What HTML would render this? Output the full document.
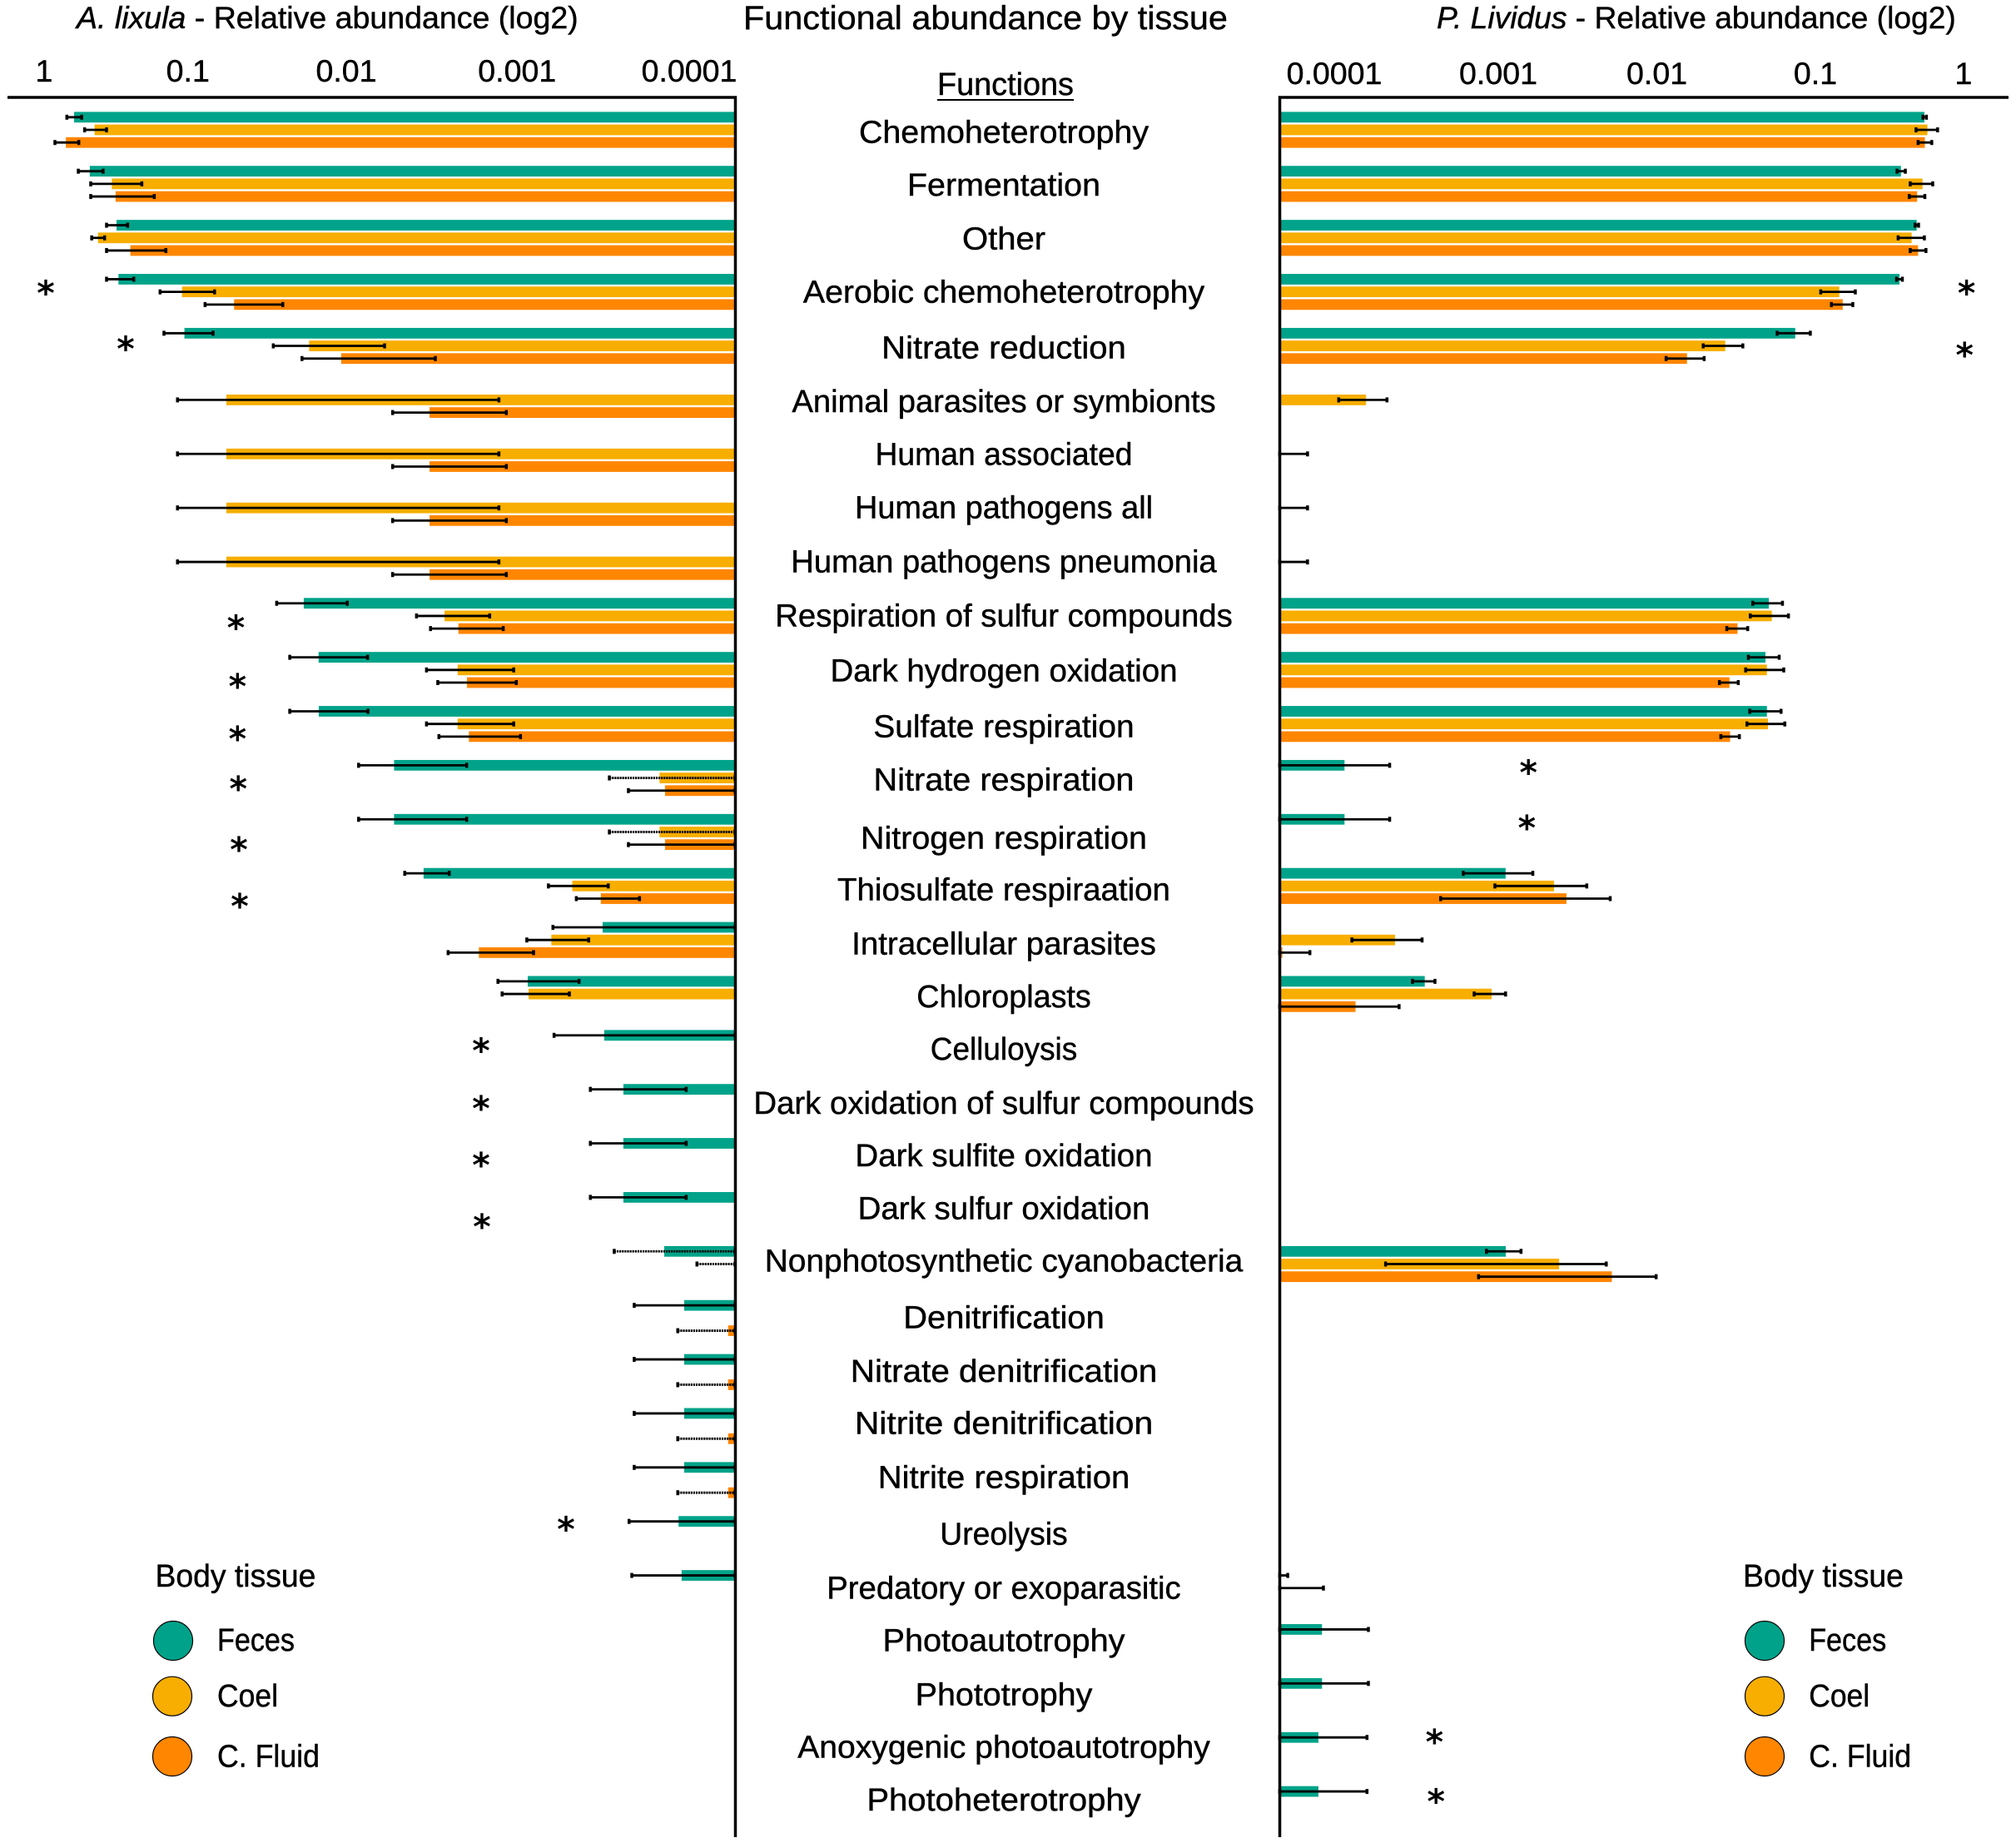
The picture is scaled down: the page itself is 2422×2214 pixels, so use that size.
<!DOCTYPE html>
<html lang="en">
<head>
<meta charset="utf-8">
<title>Functional abundance by tissue</title>
<style>
  html, body { margin: 0; padding: 0; background: #fff; }
  svg { display: block; }
  text { font-family: "Liberation Sans", sans-serif; fill: #000; stroke: #000; stroke-width: 0.45px; }
  .star { font-family: "DejaVu Sans", sans-serif; font-weight: bold; font-size: 41px; text-anchor: middle; stroke-width: 0; }
</style>
</head>
<body>
<svg id="chart" xmlns="http://www.w3.org/2000/svg" width="2422" height="2214" viewBox="0 0 2422 2214">
  <rect x="0" y="0" width="2422" height="2214" fill="#fff"/>

  <text class="fit" data-fit="603" x="92" y="34" font-size="37"><tspan font-style="italic">A. lixula</tspan> - Relative abundance (log2)</text>
  <text class="fit" data-fit="582" x="893" y="35" font-size="40">Functional abundance by tissue</text>
  <text class="fit" data-fit="624" x="1726" y="34" font-size="37"><tspan font-style="italic">P. Lividus</tspan> - Relative abundance (log2)</text>
  <text class="fit" data-fit="164" x="1126" y="114" font-size="38">Functions</text>
  <line x1="1126" x2="1290" y1="120" y2="120" stroke="#000" stroke-width="2"/>

  <g id="left-bars"></g>
  <g id="right-bars"></g>
  <g id="left-errors"></g>
  <g id="right-errors"></g>
  <g id="ticks"></g>
  <g id="cats"></g>

  <path d="M9 117H883.5V2207" fill="none" stroke="#000" stroke-width="3.5"/>
  <path d="M2413 117H1537.5V2207" fill="none" stroke="#000" stroke-width="3.5"/>

  <g transform="translate(0 1.5)">
    <text class="star" x="55" y="365">*</text>
    <text class="star" x="151" y="432">*</text>
    <text class="star" x="283.5" y="767">*</text>
    <text class="star" x="285.3" y="837.6">*</text>
    <text class="star" x="285.3" y="900.5">*</text>
    <text class="star" x="286.2" y="960.5">*</text>
    <text class="star" x="287" y="1033.7">*</text>
    <text class="star" x="288" y="1101.6">*</text>
    <text class="star" x="578" y="1275">*</text>
    <text class="star" x="578" y="1344.7">*</text>
    <text class="star" x="578" y="1412.7">*</text>
    <text class="star" x="579" y="1486.7">*</text>
    <text class="star" x="680" y="1850">*</text>
  </g>
  <g transform="translate(0 1.5)">
    <text class="star" x="2362.6" y="365">*</text>
    <text class="star" x="2360.2" y="439.7">*</text>
    <text class="star" x="1836.2" y="940.9">*</text>
    <text class="star" x="1834.4" y="1007.6">*</text>
    <text class="star" x="1723.4" y="2105.3">*</text>
    <text class="star" x="1725.2" y="2177">*</text>
  </g>

  <g>
    <text class="fit" data-fit="193" x="186.5" y="1906" font-size="38">Body tissue</text>
    <circle cx="208" cy="1971" r="23.5" fill="#00a389" stroke="#000" stroke-width="1.2"/>
    <text class="fit" data-fit="93" x="261" y="1983" font-size="38">Feces</text>
    <circle cx="207" cy="2037.7" r="23.5" fill="#f7ae00" stroke="#000" stroke-width="1.2"/>
    <text class="fit" data-fit="73" x="261" y="2050" font-size="38">Coel</text>
    <circle cx="207" cy="2110" r="23.5" fill="#ff8600" stroke="#000" stroke-width="1.2"/>
    <text class="fit" data-fit="123" x="261" y="2122.7" font-size="38">C. Fluid</text>
  </g>
  <g>
    <text class="fit" data-fit="193" x="2094" y="1906" font-size="38">Body tissue</text>
    <circle cx="2120" cy="1971" r="23.5" fill="#00a389" stroke="#000" stroke-width="1.2"/>
    <text class="fit" data-fit="93" x="2173.2" y="1983" font-size="38">Feces</text>
    <circle cx="2120" cy="2037.7" r="23.5" fill="#f7ae00" stroke="#000" stroke-width="1.2"/>
    <text class="fit" data-fit="73" x="2173.2" y="2050" font-size="38">Coel</text>
    <circle cx="2120" cy="2110" r="23.5" fill="#ff8600" stroke="#000" stroke-width="1.2"/>
    <text class="fit" data-fit="123" x="2173.2" y="2122.7" font-size="38">C. Fluid</text>
  </g>
</svg>

<script>
// All series values are log10(relative abundance). n = no mark.
const n = null;

const categories = ["Chemoheterotrophy","Fermentation","Other","Aerobic chemoheterotrophy","Nitrate reduction","Animal parasites or symbionts","Human associated","Human pathogens all","Human pathogens pneumonia","Respiration of sulfur compounds","Dark hydrogen oxidation","Sulfate respiration","Nitrate respiration","Nitrogen respiration","Thiosulfate respiraation","Intracellular parasites","Chloroplasts","Celluloysis","Dark oxidation of sulfur compounds","Dark sulfite oxidation","Dark sulfur oxidation","Nonphotosynthetic cyanobacteria","Denitrification","Nitrate denitrification","Nitrite denitrification","Nitrite respiration","Ureolysis","Predatory or exoparasitic","Photoautotrophy","Phototrophy","Anoxygenic photoautotrophy","Photoheterotrophy"];
const tickLabelsLeft = ["1","0.1","0.01","0.001","0.0001"];
const tickLabelsRight = ["0.0001","0.001","0.01","0.1","1"];

const lixulaFeces     = [-.186,-.283,-.449,-.461,-.870,n,n,n,n,-1.610,-1.702,-1.703,-2.170,-2.170,-2.353,-3.463,-2.999,-3.473,-3.592,-3.592,-3.592,-3.845,-3.969,-3.969,-3.969,-3.969,-3.934,-3.953,n,n,n,n];
const lixulaFecesHigh = [-.141,-.212,-.387,-.387,-.743,n,n,n,n,-1.442,-1.523,-1.523,-1.950,-1.950,-2.236,-3.155,-2.814,-3.162,-3.387,-3.387,-3.387,-3.535,-3.659,-3.659,-3.659,-3.659,-3.627,-3.644,n,n,n,n];
const lixulaFecesLow  = [-.233,-.366,-.518,-.556,-1.048,n,n,n,n,-1.880,-2.006,-2.008,-2.620,-2.620,-2.512,-4.284,-3.317,-4.284,-3.981,-3.981,-3.981,-4.284,-4.284,-4.284,-4.284,-4.284,-4.284,-4.284,n,n,n,n];

const lixulaCoel      = [-.313,-.420,-.334,-.855,-1.643,-1.130,-1.130,-1.130,-1.130,-2.483,-2.564,-2.564,-3.816,-3.816,-3.275,-3.145,-3.004,n,n,n,n,-4.284,n,n,n,n,n,n,n,n,n,n];
const lixulaCoelHigh  = [-.251,-.289,-.295,-.719,-1.421,-.827,-.827,-.827,-.827,-2.309,-2.371,-2.371,-3.505,-3.505,-3.127,-2.993,-2.840,n,n,n,n,-4.048,n,n,n,n,n,n,n,n,n,n];
const lixulaCoelLow   = [-.387,-.606,-.375,-1.057,-2.111,-2.820,-2.820,-2.820,-2.820,-2.763,-2.912,-2.912,-4.284,-4.284,-3.498,-3.377,-3.257,n,n,n,n,-4.284,n,n,n,n,n,n,n,n,n,n];

const lixulaFluid     = [-.135,-.443,-.535,-1.178,-1.842,-2.390,-2.390,-2.390,-2.390,-2.569,-2.622,-2.634,-3.850,-3.850,-3.452,-2.696,n,n,n,n,n,n,-4.241,-4.241,-4.241,-4.241,n,n,n,n,n,n];
const lixulaFluidHigh = [-.067,-.289,-.387,-.998,-1.599,-2.161,-2.161,-2.161,-2.161,-2.396,-2.441,-2.448,-3.623,-3.623,-3.300,-2.505,n,n,n,n,n,n,-3.929,-3.929,-3.929,-3.929,n,n,n,n,n,n];
const lixulaFluidLow  = [-.215,-.683,-.755,-1.480,-2.426,-2.866,-2.866,-2.866,-2.866,-2.847,-2.928,-2.954,-4.284,-4.284,-3.692,-3.035,n,n,n,n,n,n,-4.284,-4.284,-4.284,-4.284,n,n,n,n,n,n];

const lividusFeces     = [-.249,-.398,-.298,-.407,-1.070,n,n,n,n,-1.238,-1.259,-1.250,-3.935,-3.935,-2.911,n,-3.425,n,n,n,n,-2.910,n,n,n,n,n,-4.347,-4.078,-4.078,-4.101,-4.101];
const lividusFecesHigh = [-.236,-.370,-.286,-.389,-.974,n,n,n,n,-1.151,-1.172,-1.160,-3.648,-3.648,-2.738,n,-3.360,n,n,n,n,-2.813,n,n,n,n,n,-4.296,-3.783,-3.783,-3.792,-3.792];
const lividusFecesLow  = [-.258,-.423,-.308,-.426,-1.185,n,n,n,n,-1.340,-1.368,-1.359,-4.347,-4.347,-3.180,n,-3.503,n,n,n,n,-3.033,n,n,n,n,n,-4.347,-4.347,-4.347,-4.347,-4.347];

const lividusCoel      = [-.230,-.261,-.330,-.790,-1.515,-3.798,-4.347,-4.347,-4.347,-1.219,-1.250,-1.243,n,n,-2.603,-3.614,-3.000,n,n,n,n,-2.571,n,n,n,n,n,-4.347,n,n,n,n];
const lividusCoelHigh  = [-.165,-.196,-.249,-.688,-1.403,-3.665,-4.170,-4.170,-4.170,-1.113,-1.143,-1.136,n,n,-2.395,-3.442,-2.911,n,n,n,n,-2.271,n,n,n,n,n,-4.069,n,n,n,n];
const lividusCoelLow   = [-.302,-.339,-.416,-.908,-1.655,-3.972,-4.347,-4.347,-4.347,-1.356,-1.385,-1.377,n,n,-2.979,-3.888,-3.111,n,n,n,n,-3.674,n,n,n,n,n,-4.347,n,n,n,n];

const lividusFluid     = [-.246,-.295,-.289,-.768,-1.758,n,n,n,n,-1.437,-1.488,-1.484,n,n,-2.524,-4.330,-3.865,n,n,n,n,-2.236,n,n,n,n,n,n,n,n,n,n];
const lividusFluidHigh = [-.202,-.246,-.239,-.704,-1.649,n,n,n,n,-1.372,-1.432,-1.425,n,n,-2.246,-4.155,-3.588,n,n,n,n,-1.954,n,n,n,n,n,n,n,n,n,n];
const lividusFluidLow  = [-.289,-.345,-.339,-.840,-1.891,n,n,n,n,-1.505,-1.552,-1.543,n,n,-3.324,-4.347,-4.347,n,n,n,n,-3.083,n,n,n,n,n,n,n,n,n,n];

// ---------- layout & axis functions ----------
const SVGNS = "http://www.w3.org/2000/svg";
const LEFT_AXIS = 883.5, RIGHT_AXIS = 1537.5;
const xLeft  = v => 828 - 193.75 * (v + 4);    // v = log10 abundance
const xRight = v => 1603 + 189 * (v + 4);
const rowTop = i => 134.4 + 64.88 * i;
const BAR_H = 12.8, BAR_STEP = 15.2;
const COLORS = { feces: "#00a389", coel: "#f7ae00", fluid: "#ff8600" };
const LEFT_TICK_NUDGE = [0, -21, -24.5, -13, 0];
const RIGHT_TICK_NUDGE = [0, 8, 9.6, 11, 0];
const LABEL_NUDGE = { 1: -1, 2: -1.5, 3: -2, 6: -1.5, 7: -2, 8: -2, 9: -1.5, 11: 2, 12: 1.5, 13: 6.5, 14: 4, 15: 4, 16: 3, 17: 1.5, 18: 1.5, 20: -1.5, 21: -3, 24: -2.5, 25: -2, 26: 1.5, 27: 1.5, 30: -1.5, 31: -3 };
// Per-label width correction, standing in for the narrower original typeface
const LABEL_STRETCH = [1.0135,1.013,1.03,1.01,1.03,.982,.96,.975,.982,.986,.99,1,1.02,1.014,.99,.99,.97,.95,.987,.99,.99,1,1.026,1.04,1.05,1.03,.96,.985,1.02,1.015,1.006,1.03];
// Error bars that print as dotted lines in the original
const DOTTED_ERRORS = { "lixula-feces": [21], "lixula-coel": [12, 13, 21], "lixula-fluid": [22, 23, 24, 25] };

function el(tag, parent) {
  const e = document.createElementNS(SVGNS, tag);
  parent.appendChild(e);
  return e;
}

function drawSeries(values, high, low, tissue, offset, panel, xFn, axisX, barsGroup, errGroup) {
  const dotted = DOTTED_ERRORS[panel + "-" + tissue] || [];
  values.forEach((v, i) => {
    if (v === null) return;
    const x = xFn(v);
    const y = rowTop(i) + offset * BAR_STEP;
    const bar = el("rect", barsGroup);
    
    
    bar.setAttribute("x", Math.min(x, axisX));
    bar.setAttribute("width", Math.abs(axisX - x));
    bar.setAttribute("y", y);
    bar.setAttribute("height", BAR_H);
    bar.setAttribute("fill", COLORS[tissue]);

    const x1 = xFn(high[i]), x2 = xFn(low[i]), cy = y + BAR_H / 2;
    const err = el("path", errGroup);
    
    
    err.setAttribute("d", "M" + x1 + " " + cy + "H" + x2);
    err.setAttribute("stroke", "#000");
    err.setAttribute("stroke-width", "2.8");
    err.setAttribute("fill", "none");
    if (dotted.includes(i)) err.setAttribute("stroke-dasharray", "2.2 0.9");
    [x1, x2].forEach(cx => {
      const cap = el("rect", errGroup);
      
      
      cap.setAttribute("x", cx - 1.75);
      cap.setAttribute("y", cy - 3);
      cap.setAttribute("width", 3.5);
      cap.setAttribute("height", 6);
      cap.setAttribute("fill", "#000");
    });
  });
}

const gLB = document.getElementById("left-bars"), gRB = document.getElementById("right-bars");
const gLE = document.getElementById("left-errors"), gRE = document.getElementById("right-errors");

drawSeries(lixulaFeces, lixulaFecesHigh, lixulaFecesLow, "feces", 0, "lixula", xLeft, LEFT_AXIS, gLB, gLE);
drawSeries(lixulaCoel, lixulaCoelHigh, lixulaCoelLow, "coel", 1, "lixula", xLeft, LEFT_AXIS, gLB, gLE);
drawSeries(lixulaFluid, lixulaFluidHigh, lixulaFluidLow, "fluid", 2, "lixula", xLeft, LEFT_AXIS, gLB, gLE);
drawSeries(lividusFeces, lividusFecesHigh, lividusFecesLow, "feces", 0, "lividus", xRight, RIGHT_AXIS, gRB, gRE);
drawSeries(lividusCoel, lividusCoelHigh, lividusCoelLow, "coel", 1, "lividus", xRight, RIGHT_AXIS, gRB, gRE);
drawSeries(lividusFluid, lividusFluidHigh, lividusFluidLow, "fluid", 2, "lividus", xRight, RIGHT_AXIS, gRB, gRE);

// Stretch a text horizontally about an anchor
function stretch(t, sx, ax, ay) {
  t.setAttribute("transform", "translate(" + ax + " " + ay + ") scale(" + sx + " 1) translate(" + (-ax) + " " + (-ay) + ")");
}

// tick labels
const gTicks = document.getElementById("ticks");
tickLabelsLeft.forEach((label, i) => {
  const t = el("text", gTicks);
  
  
  const cx = xLeft(Math.log10(Number(label))) + LEFT_TICK_NUDGE[i];
  t.setAttribute("x", cx);
  t.setAttribute("y", 98);
  t.setAttribute("font-size", 37);
  t.setAttribute("text-anchor", "middle");
  t.textContent = label;
  stretch(t, 1.015, cx, 98);
});
tickLabelsRight.forEach((label, i) => {
  const t = el("text", gTicks);
  
  
  const cx = xRight(Math.log10(Number(label))) + RIGHT_TICK_NUDGE[i];
  t.setAttribute("x", cx);
  t.setAttribute("y", 101);
  t.setAttribute("font-size", 37);
  t.setAttribute("text-anchor", "middle");
  t.textContent = label;
  stretch(t, 1.015, cx, 101);
});

// category labels
const gCats = document.getElementById("cats");
categories.forEach((label, i) => {
  const t = el("text", gCats);
  
  
  const y = 171.5 + 64.72 * i + (LABEL_NUDGE[i] || 0);
  t.setAttribute("x", 1206);
  t.setAttribute("y", y);
  t.setAttribute("font-size", 38);
  t.setAttribute("text-anchor", "middle");
  t.textContent = label;
  stretch(t, 1.023 * LABEL_STRETCH[i], 1206, y);
});

// fit titles / legend text to measured widths
document.querySelectorAll("text.fit").forEach(t => {
  const target = Number(t.getAttribute("data-fit"));
  const w = t.getComputedTextLength();
  stretch(t, target / w, Number(t.getAttribute("x")), Number(t.getAttribute("y")));
});
</script>
</body>
</html>
